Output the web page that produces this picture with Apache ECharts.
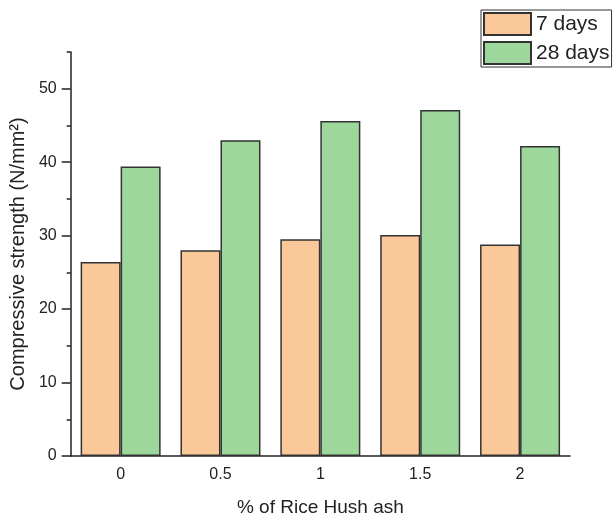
<!DOCTYPE html>
<html>
<head>
<meta charset="utf-8">
<script src="https://cdn.jsdelivr.net/npm/echarts@6/dist/echarts.min.js"></script>
<style>
  html, body { margin: 0; padding: 0; background: #fff; }
  #chart { width: 613px; height: 522px; }
</style>
</head>
<body>
<div id="chart"></div>
<script>
var categories = ['0', '0.5', '1', '1.5', '2'];
var days7 = [26.4, 28.0, 29.5, 30.1, 28.8];
var days28 = [39.4, 43.0, 45.6, 47.1, 42.2];
var yTicks = [0, 10, 20, 30, 40, 50];

var chartDom = document.getElementById('chart');
var myChart = echarts.init(chartDom);
var font = 'Liberation Sans, Arial, sans-serif';
var ink = '#222';
var option;

option = {
  animation: false,
  textStyle: { fontFamily: font },
  legend: {
    orient: 'vertical',
    left: 481,
    top: 10,
    padding: [2, 2, 2, 2],
    itemGap: 5,
    itemWidth: 47,
    itemHeight: 22,
    icon: 'rect',
    borderColor: '#333',
    borderWidth: 1,
    textStyle: { fontSize: 21, color: ink, fontFamily: font }
  },
  grid: { left: 68, right: 43, top: 52, bottom: 64 },
  xAxis: [
    {
      type: 'category',
      data: categories,
      name: '% of Rice Hush ash',
      nameLocation: 'middle',
      nameGap: 42,
      nameTextStyle: { fontSize: 19, color: ink },
      axisLine: { lineStyle: { color: ink, width: 1.5 } },
      axisTick: { alignWithLabel: true, length: 8, lineStyle: { color: ink, width: 1.5 } },
      axisLabel: { fontSize: 16, color: ink, margin: 11 }
    },
    {
      type: 'category',
      data: categories,
      position: 'bottom',
      axisLine: { show: false },
      axisTick: { length: 4, lineStyle: { color: ink, width: 1.5 } },
      axisLabel: { show: false }
    }
  ],
  yAxis: [
    {
      type: 'value',
      min: 0,
      max: 55,
      interval: 10,
      name: 'Compressive strength (N/mm²)',
      nameLocation: 'middle',
      nameGap: 38,
      nameTextStyle: { fontSize: 20, color: ink },
      splitLine: { show: false },
      axisLine: { show: true, lineStyle: { color: ink, width: 1.5 } },
      axisTick: { show: true, length: 9, customValues: yTicks, lineStyle: { color: ink, width: 1.5 } },
      axisLabel: { fontSize: 16, color: ink, margin: 14, customValues: yTicks }
    },
    {
      type: 'value',
      min: 0,
      max: 55,
      interval: 5,
      position: 'left',
      splitLine: { show: false },
      axisLine: { show: false },
      axisTick: { show: true, length: 4, lineStyle: { color: ink, width: 1.5 } },
      axisLabel: { show: false }
    }
  ],
  series: [
    {
      name: '7 days',
      type: 'bar',
      data: days7,
      barWidth: 40,
      barGap: '0%',
      itemStyle: { color: '#fbc899', borderColor: '#333', borderWidth: 1.5 }
    },
    {
      name: '28 days',
      type: 'bar',
      data: days28,
      barWidth: 40,
      barGap: '0%',
      itemStyle: { color: '#9ed79b', borderColor: '#333', borderWidth: 1.5 }
    }
  ]
};

option && myChart.setOption(option);
</script>
</body>
</html>
